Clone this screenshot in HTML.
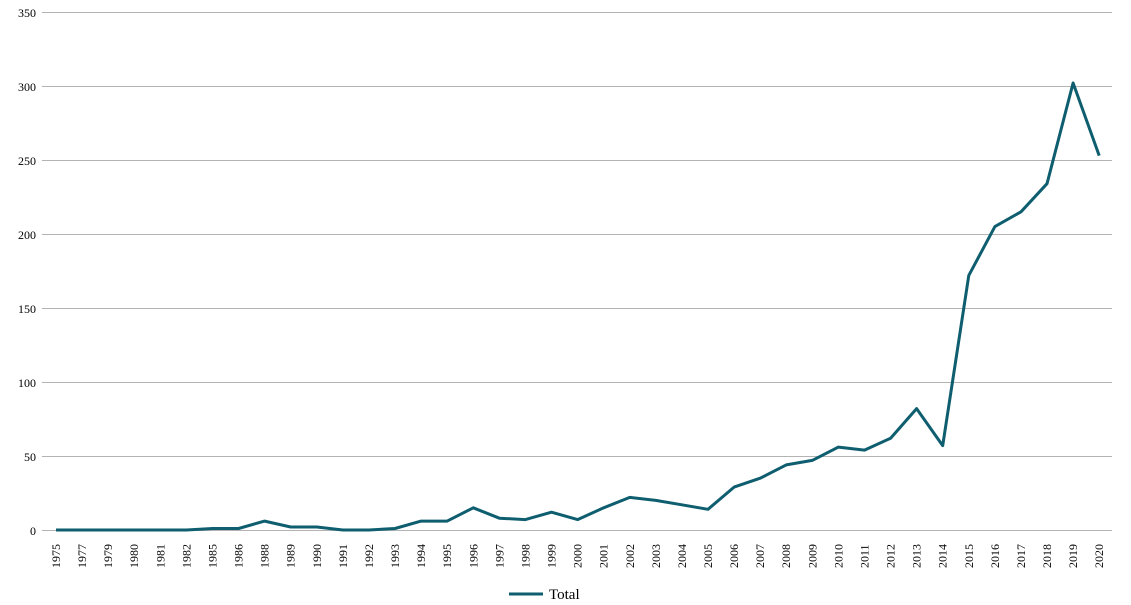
<!DOCTYPE html>
<html><head><meta charset="utf-8"><style>
html,body{margin:0;padding:0;background:#fff;}
svg{display:block;font-family:"Liberation Serif",serif;}
</style></head><body>
<svg width="1131" height="605" viewBox="0 0 1131 605" xmlns="http://www.w3.org/2000/svg">
<g stroke="#b3b3b3" stroke-width="1">
<line x1="42" x2="1112" y1="12.5" y2="12.5"/>
<line x1="42" x2="1112" y1="86.5" y2="86.5"/>
<line x1="42" x2="1112" y1="160.5" y2="160.5"/>
<line x1="42" x2="1112" y1="234.5" y2="234.5"/>
<line x1="42" x2="1112" y1="308.5" y2="308.5"/>
<line x1="42" x2="1112" y1="382.5" y2="382.5"/>
<line x1="42" x2="1112" y1="456.5" y2="456.5"/>
<line x1="42" x2="1112" y1="530.5" y2="530.5"/>
</g>
<g font-size="12" fill="#000" text-anchor="end">
<text x="36" y="17">350</text><text x="36" y="91">300</text><text x="36" y="165">250</text>
<text x="36" y="239">200</text><text x="36" y="313">150</text><text x="36" y="387">100</text>
<text x="36" y="461">50</text><text x="36" y="535">0</text>
</g>
<g font-size="12" fill="#000">
<text transform="translate(60,568) rotate(-90)">1975</text>
<text transform="translate(86.1,568) rotate(-90)">1977</text>
<text transform="translate(112.2,568) rotate(-90)">1979</text>
<text transform="translate(138.2,568) rotate(-90)">1980</text>
<text transform="translate(164.3,568) rotate(-90)">1981</text>
<text transform="translate(190.4,568) rotate(-90)">1982</text>
<text transform="translate(216.5,568) rotate(-90)">1985</text>
<text transform="translate(242.6,568) rotate(-90)">1986</text>
<text transform="translate(268.6,568) rotate(-90)">1988</text>
<text transform="translate(294.7,568) rotate(-90)">1989</text>
<text transform="translate(320.8,568) rotate(-90)">1990</text>
<text transform="translate(346.9,568) rotate(-90)">1991</text>
<text transform="translate(373,568) rotate(-90)">1992</text>
<text transform="translate(399,568) rotate(-90)">1993</text>
<text transform="translate(425.1,568) rotate(-90)">1994</text>
<text transform="translate(451.2,568) rotate(-90)">1995</text>
<text transform="translate(477.3,568) rotate(-90)">1996</text>
<text transform="translate(503.4,568) rotate(-90)">1997</text>
<text transform="translate(529.4,568) rotate(-90)">1998</text>
<text transform="translate(555.5,568) rotate(-90)">1999</text>
<text transform="translate(581.6,568) rotate(-90)">2000</text>
<text transform="translate(607.7,568) rotate(-90)">2001</text>
<text transform="translate(633.8,568) rotate(-90)">2002</text>
<text transform="translate(659.8,568) rotate(-90)">2003</text>
<text transform="translate(685.9,568) rotate(-90)">2004</text>
<text transform="translate(712,568) rotate(-90)">2005</text>
<text transform="translate(738.1,568) rotate(-90)">2006</text>
<text transform="translate(764.2,568) rotate(-90)">2007</text>
<text transform="translate(790.2,568) rotate(-90)">2008</text>
<text transform="translate(816.3,568) rotate(-90)">2009</text>
<text transform="translate(842.4,568) rotate(-90)">2010</text>
<text transform="translate(868.5,568) rotate(-90)">2011</text>
<text transform="translate(894.6,568) rotate(-90)">2012</text>
<text transform="translate(920.6,568) rotate(-90)">2013</text>
<text transform="translate(946.7,568) rotate(-90)">2014</text>
<text transform="translate(972.8,568) rotate(-90)">2015</text>
<text transform="translate(998.9,568) rotate(-90)">2016</text>
<text transform="translate(1025,568) rotate(-90)">2017</text>
<text transform="translate(1051,568) rotate(-90)">2018</text>
<text transform="translate(1077.1,568) rotate(-90)">2019</text>
<text transform="translate(1103.2,568) rotate(-90)">2020</text>
</g>
<polyline fill="none" stroke="#0e5e6f" stroke-width="3" stroke-linejoin="round" points="56,530 82.1,530 108.2,530 134.2,530 160.3,530 186.4,530 212.5,528.5 238.6,528.5 264.6,521.1 290.7,527 316.8,527 342.9,530 369,530 395,528.5 421.1,521.1 447.2,521.1 473.3,507.8 499.4,518.2 525.4,519.6 551.5,512.2 577.6,519.6 603.7,507.8 629.8,497.4 655.8,500.4 681.9,504.8 708,509.3 734.1,487.1 760.2,478.2 786.2,464.9 812.3,460.4 838.4,447.1 864.5,450.1 890.6,438.2 916.6,408.6 942.7,445.6 968.8,275.4 994.9,226.6 1021,211.8 1047,183.7 1073.1,83 1099.2,155.6"/>
<line x1="509" x2="543" y1="594" y2="594" stroke="#0e5e6f" stroke-width="3"/>
<text x="549" y="599" font-size="15">Total</text>
</svg>
</body></html>
